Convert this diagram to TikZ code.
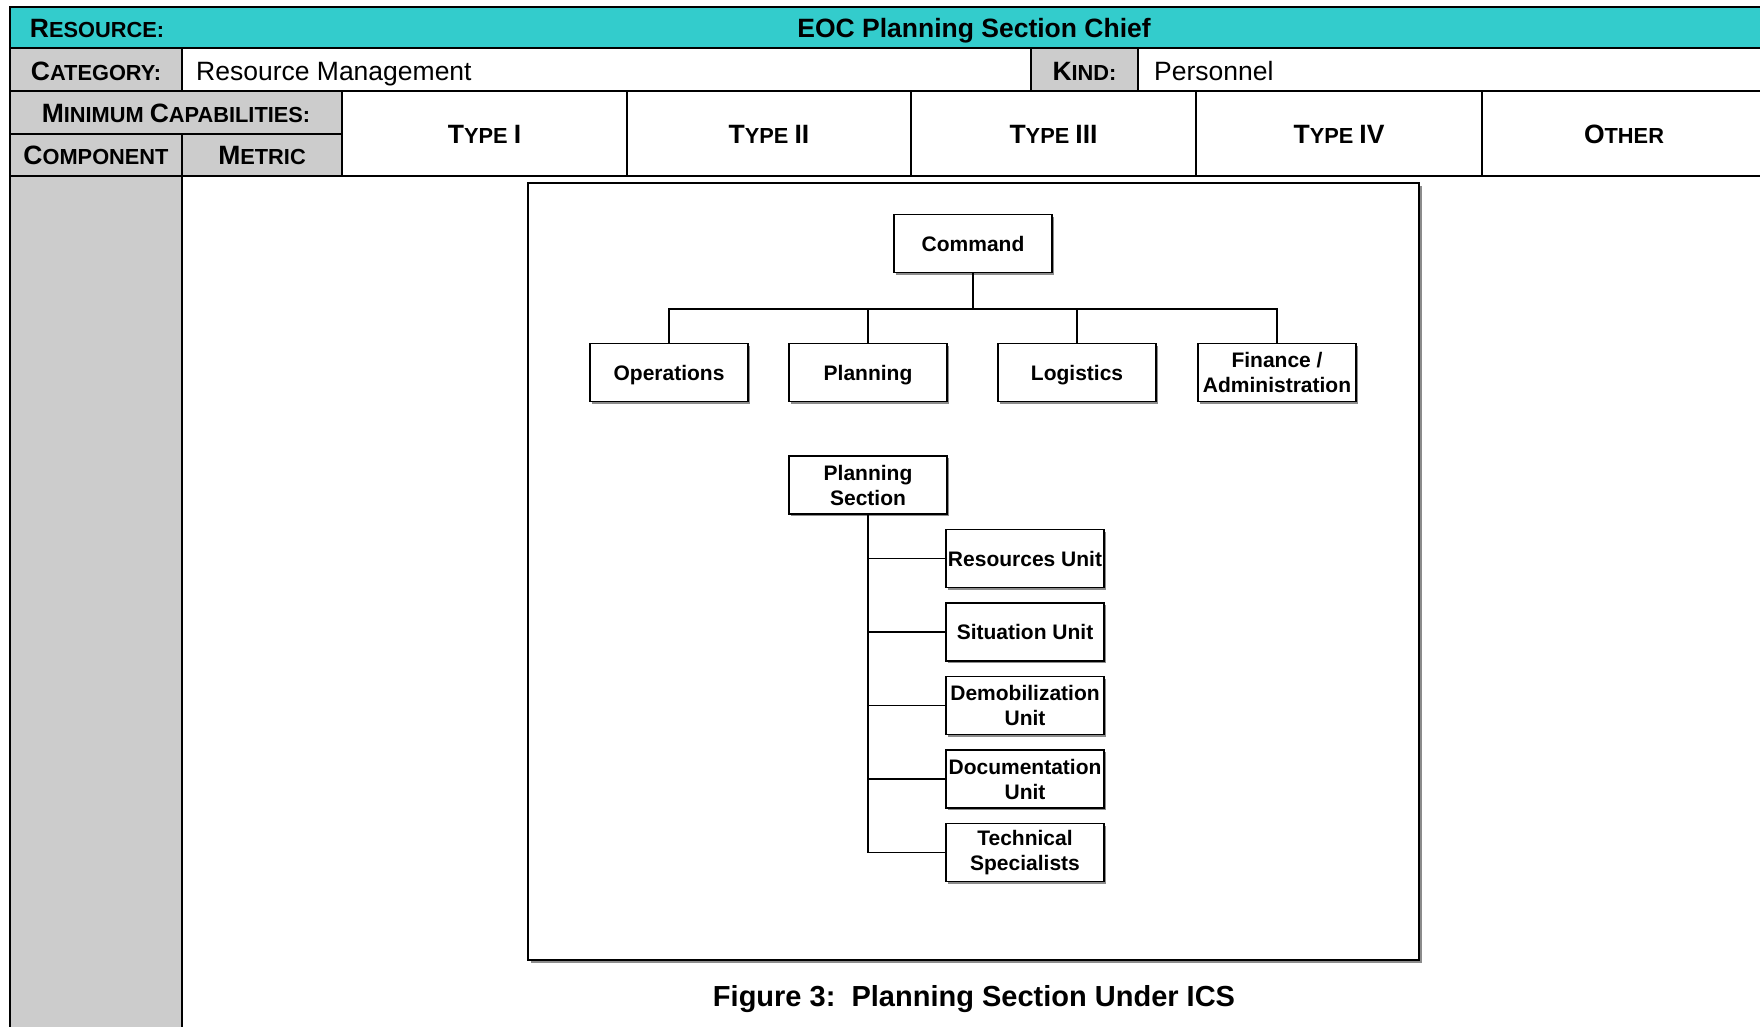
\documentclass[tikz,border=0pt]{standalone}
\usepackage{fontspec}
\setmainfont{Liberation Sans}
\usetikzlibrary{positioning,shadows}
\definecolor{hdrteal}{HTML}{33CCCC}
\definecolor{cellgray}{HTML}{CCCCCC}
\newcommand{\capbig}{\fontsize{26.5}{30}\selectfont}
\newcommand{\capsmall}{\fontsize{21.8}{25}\selectfont}
\newcommand{\smcap}[2]{{\capbig #1}{\capsmall #2}}
\tikzset{
  grid line/.style={line width=2.6pt},
  hdr/.style={font=\capbig\bfseries, inner sep=0pt, anchor=base},
  plain/.style={font=\capbig, inner sep=0pt, anchor=base west},
  orgbox/.style={draw, line width=1.4pt, fill=white, minimum width=158pt, minimum height=58pt,
    inner sep=0pt, align=center, font=\fontsize{21}{25}\selectfont\bfseries,
    drop shadow={shadow xshift=2pt, shadow yshift=-2pt, fill=black!45, opacity=1}},
  oneline/.style={text depth=0pt},
  link/.style={line width=1.6pt},
}
\begin{document}
\begin{tikzpicture}[x=1pt,y=-1pt]
\useasboundingbox (0,0) rectangle (1760,1026);
\clip (0,0) rectangle (1760,1026);
% cell fills
\fill[hdrteal] (10,7) rectangle (1770,48);
\fill[cellgray] (10,48) rectangle (182,91);
\fill[cellgray] (1031,48) rectangle (1138,91);
\fill[cellgray] (10,91) rectangle (342,176);
\fill[cellgray] (10,176) rectangle (182,1030);
% rules
\draw[grid line] (10,1030) -- (10,7) -- (1770,7);
\draw[grid line] (10,48) -- (1770,48);
\draw[grid line] (10,91) -- (1770,91);
\draw[grid line] (10,134) -- (342,134);
\draw[grid line] (10,176) -- (1770,176);
\draw[grid line] (182,48) -- (182,91);
\draw[grid line] (182,134) -- (182,1030);
\draw[grid line] (1031,48) -- (1031,91);
\draw[grid line] (1138,48) -- (1138,91);
\foreach \x in {342,627,911,1196,1482}
  \draw[grid line] (\x,91) -- (\x,176);
% header texts
\node[hdr] (reslbl) at (97,37) {\smcap{R}{ESOURCE:}};
\node[hdr] (restitle) at (974,37) {EOC Planning Section Chief};
\node[hdr] (catlbl) at (96,80) {\smcap{C}{ATEGORY:}};
\node[plain] (catval) at (196,80) {Resource Management};
\node[hdr] (kindlbl) at (1084.5,80) {\smcap{K}{IND:}};
\node[plain] (kindval) at (1154,80) {Personnel};
\node[hdr] (mincap) at (176,122) {\smcap{M}{INIMUM }\smcap{C}{APABILITIES:}};
\node[hdr] (comp) at (96,164.5) {\smcap{C}{OMPONENT}};
\node[hdr] (metric) at (262,164.5) {\smcap{M}{ETRIC}};
\node[hdr] (type1) at (484.5,143) {\smcap{T}{YPE }I};
\node[hdr] (type2) at (769,143) {\smcap{T}{YPE }II};
\node[hdr] (type3) at (1053.5,143) {\smcap{T}{YPE }III};
\node[hdr] (type4) at (1339,143) {\smcap{T}{YPE }IV};
\node[hdr] (other) at (1624,143) {\smcap{O}{THER}};
% figure
\draw[line width=1.5pt, fill=white, drop shadow={shadow xshift=3pt, shadow yshift=-3pt, fill=black!45, opacity=1}]
  (528,183) rectangle (1419,960);
\node[orgbox, oneline] (cmd) at (973,243.5) {Command};
\node[orgbox, oneline] (ops) at (669,372.5) {Operations};
\node[orgbox, oneline] (plan) at (868,372.5) {Planning};
\node[orgbox, oneline] (logi) at (1077,372.5) {Logistics};
\node[orgbox] (fin) at (1277,372.5) {Finance /\\Administration};
\coordinate (bus) at (973,309);
\draw[link, line width=2pt] (cmd) -- (bus);
\draw[link] (ops.north) -- (ops.north |- bus) -- (fin.north |- bus) -- (fin.north);
\draw[link, line width=2.2pt] (ops.north |- bus) -- (fin.north |- bus);
\foreach \n in {plan,logi}
  \draw[link] (\n.north) -- (\n.north |- bus);
\node[orgbox] (psec) at (868,485) {Planning\\Section};
\node[orgbox, oneline] (resu) at (1025,558.5) {Resources Unit};
\node[orgbox, oneline] (situ) at (1025,632) {Situation Unit};
\node[orgbox] (demob) at (1025,705.5) {Demobilization\\Unit};
\node[orgbox] (docu) at (1025,779) {Documentation\\Unit};
\node[orgbox] (tech) at (1025,852.5) {Technical\\Specialists};
\draw[link] (psec.south) |- (tech.west);
\foreach \u in {resu,situ,demob,docu}
  \draw[link] (psec.south |- \u.west) -- (\u.west);
\node[font=\fontsize{29}{33}\selectfont\bfseries, inner sep=0pt, anchor=base] (caption) at (974,1006)
  {Figure 3:\ \ Planning Section Under ICS};
\end{tikzpicture}
\end{document}
